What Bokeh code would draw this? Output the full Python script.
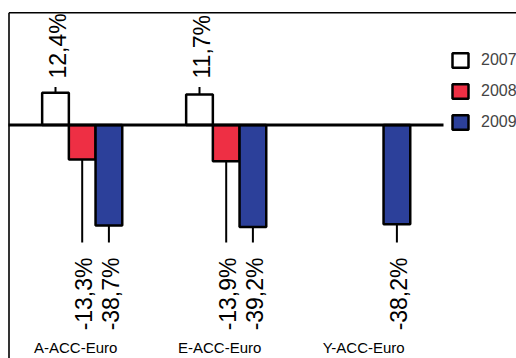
import math
from bokeh.plotting import figure
from bokeh.models import ColumnDataSource, Legend, LegendItem, Range1d
from bokeh.core.properties import value
from bokeh.embed import file_html
from bokeh.resources import INLINE

# ---- data ----
categories = ["A-ACC-Euro", "E-ACC-Euro", "Y-ACC-Euro"]
years = ["2007", "2008", "2009"]
v2007 = [12.4, 11.7, None]
v2008 = [-13.3, -13.9, None]
v2009 = [-38.7, -39.2, -38.2]
colors = ["#FFFFFF", "#EE2F44", "#2C409A"]

# ---- layout constants (pixels) ----
W, H = 516, 358
PX = 2.6            # pixels per percentage point
ZERO_PX = 124.5     # pixel row of the zero line
FIRST_PX = 81.7     # pixel column of the first group centre
GROUP_PX = 144.0    # pixels between group centres
BAR_PX = 26.7


def py(pix):
    return (ZERO_PX - pix) / PX


def pxx(pix):
    return (pix - FIRST_PX) / GROUP_PX


bar_w = BAR_PX / GROUP_PX
FONT_NAME = "Liberation Sans"
FONT = value(FONT_NAME)

p = figure(width=W, height=H, output_backend="svg", toolbar_location=None,
           x_axis_type=None, y_axis_type=None, min_border=0,
           x_range=Range1d(pxx(0), pxx(W)), y_range=Range1d(py(H), py(0)))
p.outline_line_color = None
p.grid.visible = False
p.background_fill_color = "white"

# frame lines
p.segment(x0=[pxx(8.5)], y0=[py(12.3)], x1=[pxx(8.5)], y1=[py(H + 5)],
          line_color="black", line_width=1.6)
p.segment(x0=[pxx(8.5)], y0=[py(12.3)], x1=[pxx(W + 5)], y1=[py(12.3)],
          line_color="black", line_width=1.6)

series = [v2007, v2008, v2009]
renderers = []
pos_line_top = py(86.5)
neg_line_bot = py(242)
pos_text = py(78)
neg_text = py(257)

for j, (yr, vals, col) in enumerate(zip(years, series, colors)):
    xs, ys, labs = [], [], []
    for i, v in enumerate(vals):
        if v is None:
            continue
        xs.append(i + (j - 1) * bar_w)
        ys.append(v)
        labs.append(("%.1f%%" % v).replace(".", ","))
    src = ColumnDataSource(dict(x=xs, top=ys, lab=labs,
                                lend=[pos_line_top if v > 0 else neg_line_bot for v in ys],
                                ty=[pos_text if v > 0 else neg_text for v in ys],
                                al=["left" if v > 0 else "right" for v in ys]))
    p.segment(x0="x", y0="top", x1="x", y1="lend", source=src,
              line_color="black", line_width=2)
    r = p.vbar(x="x", top="top", bottom=0, width=bar_w, source=src,
               fill_color=col, line_color="black", line_width=2.5)
    renderers.append(r)
    p.text(x="x", y="ty", text="lab", source=src, angle=math.pi / 2,
           text_align="al", text_baseline="middle", x_offset=2,
           text_font=FONT, text_font_size="23px", text_color="black")

# zero line
p.segment(x0=[pxx(8)], y0=[0], x1=[pxx(443)], y1=[0], line_color="black", line_width=3)

# category labels
p.text(x=[i for i in range(len(categories))], y=[py(355)] * len(categories),
       text=categories, text_align="center", text_baseline="bottom",
       x_offset=-6.5, text_font=FONT, text_font_size="15px", text_color="black")

legend = Legend(items=[LegendItem(label=yr, renderers=[r]) for yr, r in zip(years, renderers)],
                location=(450, 226), orientation="vertical",
                glyph_width=20, glyph_height=18, label_height=20,
                label_text_font=FONT_NAME, label_text_font_size="16px",
                label_standoff=11, spacing=11, padding=0, margin=0,
                border_line_alpha=0, background_fill_alpha=0)
p.add_layout(legend)

open("out.html", "w").write(file_html(p, INLINE))
